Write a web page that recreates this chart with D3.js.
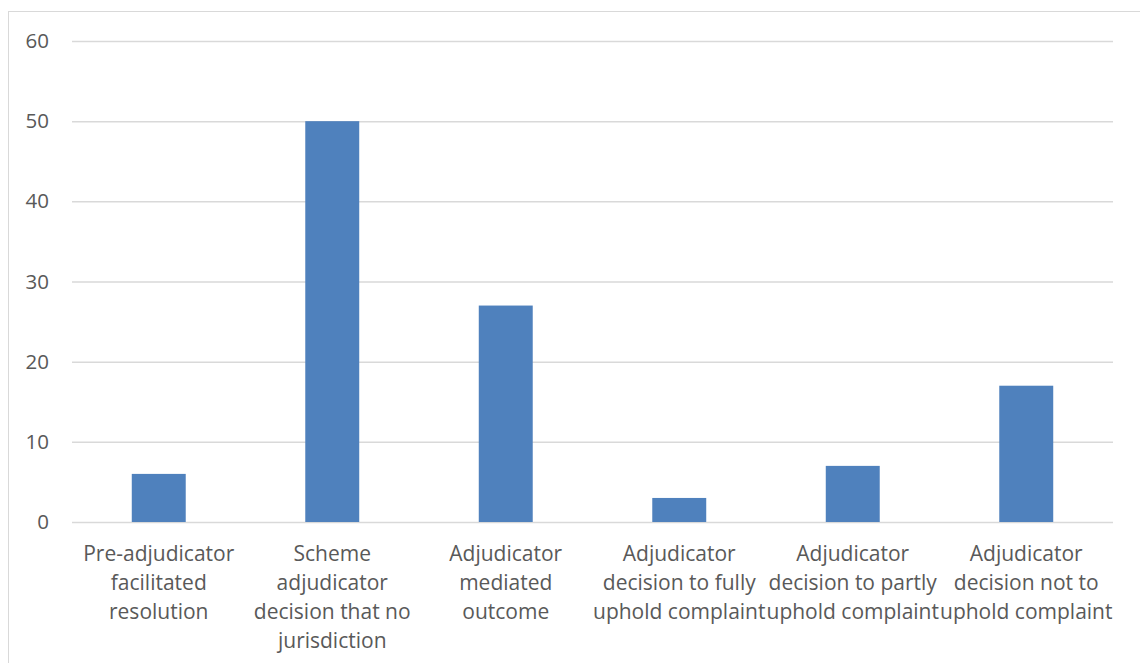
<!DOCTYPE html>
<html><head><meta charset="utf-8">
<script src="https://cdn.jsdelivr.net/npm/d3@7"></script>
<style>html,body{margin:0;padding:0;background:#fff;overflow:hidden}</style>
</head><body>
<svg id="c" width="1140" height="663"></svg>
<script>
const categories = [
  ["Pre-adjudicator","facilitated","resolution"],
  ["Scheme","adjudicator","decision that no","jurisdiction"],
  ["Adjudicator","mediated","outcome"],
  ["Adjudicator","decision to fully","uphold complaint"],
  ["Adjudicator","decision to partly","uphold complaint"],
  ["Adjudicator","decision not to","uphold complaint"]
];
const values = [6, 50, 27, 3, 7, 17];
const yTicks = [0, 10, 20, 30, 40, 50, 60];

const svg = d3.select("#c");
const font = "'Open Sans', sans-serif";
const m = {left: 72, right: 1113, top: 41, bottom: 522};

svg.append("rect").attr("x", 8.5).attr("y", 11.5).attr("width", 1200).attr("height", 700)
  .attr("fill", "#fff").attr("stroke", "#d9d9d9").attr("stroke-width", 1);

const x = d3.scaleBand().domain(d3.range(categories.length)).range([m.left, m.right]).padding(0);
const y = d3.scaleLinear().domain([0, 60]).range([m.bottom, m.top]);

const yAxis = svg.append("g").attr("transform", `translate(${m.left},0)`)
  .call(d3.axisLeft(y).tickValues(yTicks).tickSize(-(m.right - m.left)).tickPadding(23));
yAxis.select(".domain").remove();
yAxis.selectAll(".tick line").attr("stroke", "#d9d9d9").attr("stroke-width", 1.5);
yAxis.selectAll(".tick text").attr("fill", "#595959").style("font-family", font).style("font-size", "20.5px");

const bw = x.bandwidth() * 0.311;
svg.append("g").selectAll("rect").data(values).join("rect")
  .attr("x", (d, i) => x(i) + x.bandwidth() / 2 - bw / 2)
  .attr("width", bw)
  .attr("y", d => y(d))
  .attr("height", d => y(0) - y(d))
  .attr("fill", "#4f81bd");

const xl = svg.append("g");
categories.forEach((lines, i) => {
  const t = xl.append("text").attr("text-anchor", "middle")
    .attr("fill", "#595959").style("font-family", font).style("font-size", "21px");
  lines.forEach((ln, j) => {
    t.append("tspan").attr("x", x(i) + x.bandwidth() / 2).attr("y", 561 + j * 29).text(ln);
  });
});
</script>
</body></html>
